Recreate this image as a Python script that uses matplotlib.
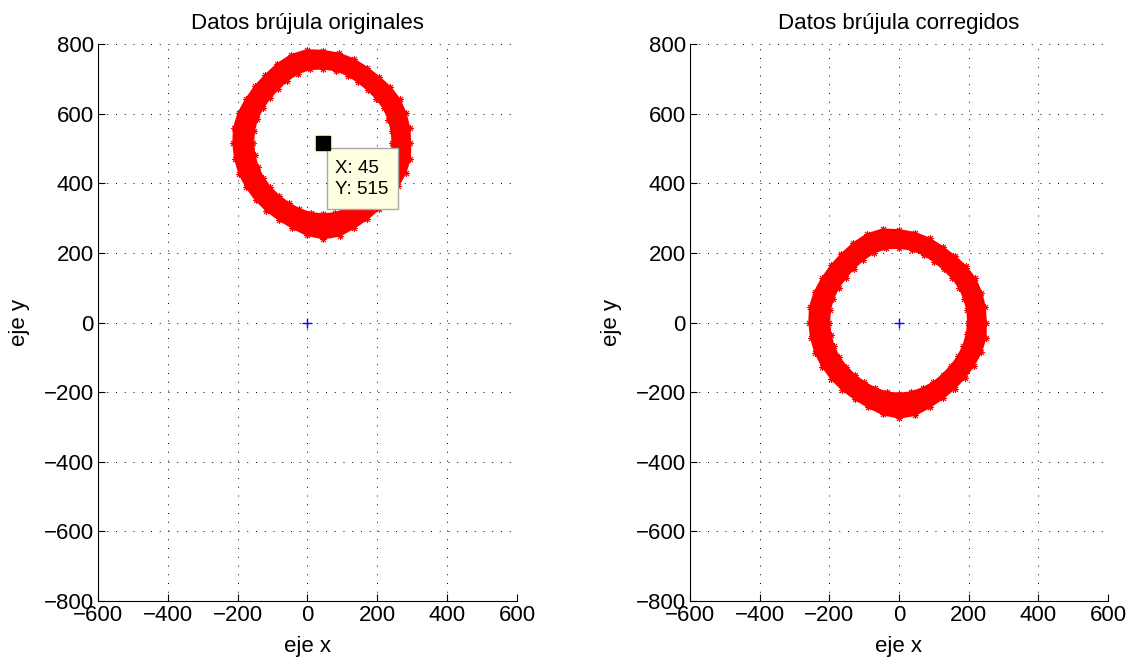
import numpy as np
import matplotlib
matplotlib.use('Agg')
import matplotlib.pyplot as plt
from matplotlib.path import Path
from matplotlib.patches import PathPatch, Rectangle

plt.rcParams['font.family'] = ['Liberation Sans', 'DejaVu Sans']

# centro de la circunferencia (data tip)
center_x = 45
center_y = 515

# perfil del anillo: angulo (grados) y radios exterior / interior
angles = [0, 10, 20, 30, 40, 50, 60, 70, 80, 90, 100, 110,
          120, 130, 140, 150, 160, 170, 180, 190, 200, 210, 220, 230,
          240, 250, 260, 270, 280, 290, 300, 310, 320, 330, 340, 350]
r_outer = [250, 251, 252, 253, 251, 249, 251, 257, 262, 266, 272, 270,
           263, 257, 255, 255, 258, 260, 258, 257, 256, 254, 253, 253,
           254, 259, 268, 274, 270, 259, 252, 248, 247, 248, 251, 253]
r_inner = [198, 199, 199, 200, 199, 199, 202, 207, 212, 214, 216, 213,
           207, 202, 200, 200, 201, 201, 200, 199, 199, 198, 197, 197,
           198, 201, 203, 204, 203, 200, 198, 195, 194, 195, 196, 197]

xticks = [-600, -400, -200, 0, 200, 400, 600]
yticks = [-800, -600, -400, -200, 0, 200, 400, 600, 800]

fs = 16

fig = plt.figure(figsize=(11.35, 6.65), dpi=100)
ax1 = fig.add_axes([0.0863, 0.0962, 0.3692, 0.8376])
ax2 = fig.add_axes([0.6079, 0.0962, 0.3683, 0.8376])


def draw_ring(ax, cx, cy):
    th = np.deg2rad(angles)
    xo = cx + np.array(r_outer) * np.cos(th)
    yo = cy + np.array(r_outer) * np.sin(th)
    xi = cx + np.array(r_inner) * np.cos(th)
    yi = cy + np.array(r_inner) * np.sin(th)
    outer = np.column_stack([np.append(xo, xo[0]), np.append(yo, yo[0])])
    inner = np.column_stack([np.append(xi, xi[0]), np.append(yi, yi[0])])[::-1]
    verts = np.concatenate([outer, inner])
    codes = ([Path.MOVETO] + [Path.LINETO] * (len(outer) - 1)
             + [Path.MOVETO] + [Path.LINETO] * (len(inner) - 1))
    ax.add_patch(PathPatch(Path(verts, codes), facecolor='red', edgecolor='red',
                           lw=1.2, zorder=3))
    for xs, ys in [(xo, yo), (xi, yi)]:
        ax.plot(xs, ys, ls='none', marker=(8, 2, 0), ms=5, mew=0.7,
                color='red', zorder=3)


def style_axes(ax, title):
    ax.set_xlim(-600, 600)
    ax.set_ylim(-800, 800)
    ax.set_xticks(xticks)
    ax.set_yticks(yticks)
    ax.spines['top'].set_visible(False)
    ax.spines['right'].set_visible(False)
    for s in ['left', 'bottom']:
        ax.spines[s].set_linewidth(0.8)
    ax.tick_params(direction='in', length=5, width=0.8, labelsize=fs, pad=3)
    ax.grid(True, color='black', linestyle=(0, (1, 8)), linewidth=0.7)
    ax.set_axisbelow(True)
    ax.set_title(title, fontsize=fs, pad=11)
    ax.set_xlabel('eje x', fontsize=fs, labelpad=7)
    ax.set_ylabel('eje y', fontsize=fs, labelpad=10)


# datos originales
draw_ring(ax1, center_x, center_y)
ax1.plot(0, 0, '+', color='#0000FF', ms=7, mew=1, zorder=4)
style_axes(ax1, 'Datos brújula originales')

# data tip
ax1.plot(center_x, center_y, 's', color='#FFFFE1', ms=15, zorder=5)
ax1.plot(center_x, center_y, 's', color='black', ms=9.5, zorder=6)
ax1.add_patch(Rectangle((57, 325), 201, 175, facecolor='#FFFFE1',
                        edgecolor='#A8A8A8', lw=1, zorder=5))
ax1.text(80, 412, 'X: %d\nY: %d' % (center_x, center_y), fontsize=13.5,
         va='center', ha='left', linespacing=1.25, zorder=6)

# datos corregidos
draw_ring(ax2, 0, 0)
ax2.plot(0, 0, '+', color='#0000FF', ms=7, mew=1, zorder=4)
style_axes(ax2, 'Datos brújula corregidos')

fig.savefig('out.png', dpi=100)
